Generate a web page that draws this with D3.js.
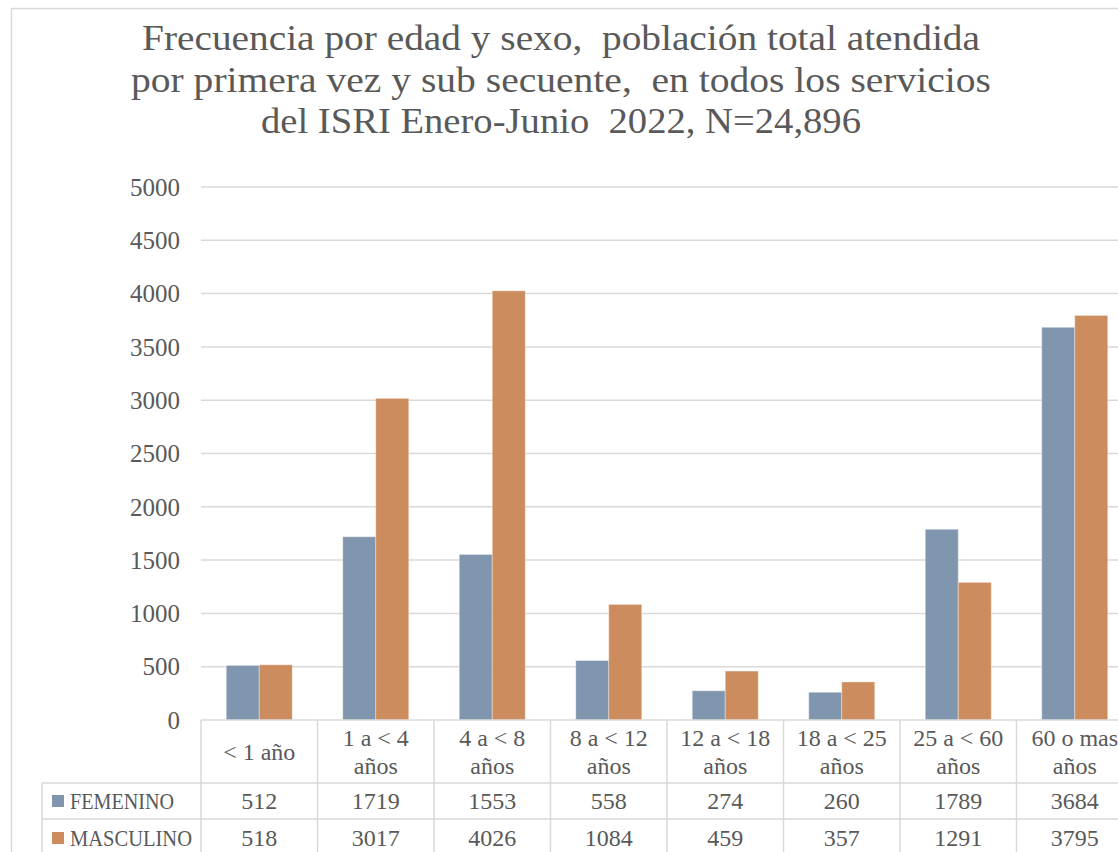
<!DOCTYPE html>
<html><head><meta charset="utf-8">
<script src="https://cdn.jsdelivr.net/npm/d3@7"></script>
<style>
html,body{margin:0;padding:0;background:#fff;overflow:hidden}
svg{display:block}
text{font-family:"Liberation Serif","DejaVu Serif",serif;fill:#595959;white-space:pre}
</style></head>
<body>
<svg id="c" width="1118" height="852"></svg>
<script>
const titleLines = ["Frecuencia por edad y sexo,  población total atendida",
  "por primera vez y sub secuente,  en todos los servicios",
  "del ISRI Enero-Junio  2022, N=24,896"];
const categories = [["< 1 año"],["1 a < 4","años"],["4 a < 8","años"],["8 a < 12","años"],
  ["12 a < 18","años"],["18 a < 25","años"],["25 a < 60","años"],["60 o mas","años"]];
const seriesNames = ["FEMENINO","MASCULINO"];
const femenino = [512,1719,1553,558,274,260,1789,3684];
const masculino = [518,3017,4026,1084,459,357,1291,3795];
const yTicks = [0,500,1000,1500,2000,2500,3000,3500,4000,4500,5000];
const colors = ["#7f96ae","#cd8c5e"];

const svg = d3.select("#c");
const values = [femenino, masculino];
const catKeys = categories.map(c=>c.join(" "));

// chart border
svg.append("rect").attr("x",11.5).attr("y",8.5).attr("width",1140).attr("height",900)
  .attr("fill","none").attr("stroke","#d9d9d9").attr("stroke-width",1.5);

// title
const tW = [838,860,600];
titleLines.forEach((t,i)=>{
  svg.append("text").attr("x",561).attr("y",50+i*41.5).attr("text-anchor","middle")
    .attr("font-size",35).attr("textLength",tW[i]).attr("lengthAdjust","spacingAndGlyphs").text(t);
});

const x0 = d3.scaleBand().domain(catKeys).range([201,201+8*116.5]).padding(0);
const bw = 33;
const x1 = d3.scaleBand().domain(seriesNames).range([(x0.bandwidth()-2*bw)/2,(x0.bandwidth()+2*bw)/2]).padding(0);
const y = d3.scaleLinear().domain([0,5000]).range([720,187]);

// gridlines
svg.append("g").selectAll("line").data(yTicks.slice(1)).join("line")
  .attr("x1",201).attr("x2",1200).attr("y1",d=>y(d)).attr("y2",d=>y(d))
  .attr("stroke","#d9d9d9").attr("stroke-width",1.5);

// y axis labels
const yAxis = d3.axisLeft(y).tickValues(yTicks).tickFormat(d3.format("d")).tickSize(0).tickPadding(0);
const ya = svg.append("g").attr("transform","translate(180,0)").call(yAxis);
ya.select(".domain").remove();
ya.selectAll("text").attr("font-size",25).attr("fill","#595959")
  .attr("font-family","Liberation Serif, DejaVu Serif, serif").attr("dy","0.33em");

// bars
const gcat = svg.append("g").selectAll("g").data(catKeys).join("g")
  .attr("transform",d=>`translate(${x0(d)},0)`);
gcat.selectAll("rect").data((d,i)=>seriesNames.map((s,j)=>({s,v:values[j][i],j}))).join("rect")
  .attr("x",d=>x1(d.s)).attr("width",x1.bandwidth())
  .attr("y",d=>y(d.v)).attr("height",d=>y(0)-y(d.v))
  .attr("fill",d=>colors[d.j]).attr("stroke","#ffffff").attr("stroke-opacity",0.35).attr("stroke-width",1);

// data table
const tb = svg.append("g");
const gc = "#d9d9d9";
const r0 = 720, r1 = 783, r2 = 819, r3 = 870;
tb.append("line").attr("x1",201).attr("x2",1200).attr("y1",r0).attr("y2",r0).attr("stroke",gc).attr("stroke-width",1.5);
[r1,r2].forEach(r=>tb.append("line").attr("x1",42).attr("x2",1200).attr("y1",r).attr("y2",r).attr("stroke",gc).attr("stroke-width",1.5));
tb.append("line").attr("x1",42).attr("x2",42).attr("y1",r1).attr("y2",r3).attr("stroke",gc).attr("stroke-width",1.5);
catKeys.forEach(k=>{
  tb.append("line").attr("x1",x0(k)).attr("x2",x0(k)).attr("y1",r0).attr("y2",r3).attr("stroke",gc).attr("stroke-width",1.5);
});
tb.append("line").attr("x1",x0.range()[1]).attr("x2",x0.range()[1]).attr("y1",r0).attr("y2",r3).attr("stroke",gc).attr("stroke-width",1.5);

// category labels
categories.forEach((c,i)=>{
  const cx = x0(catKeys[i]) + x0.bandwidth()/2;
  const ys = c.length===1 ? [752] : [738,766];
  c.forEach((t,k)=>{
    tb.append("text").attr("x",cx).attr("y",ys[k]).attr("dy","0.33em").attr("text-anchor","middle")
      .attr("font-size",24).text(t);
  });
});
// rows
const rowY = [801,838];
const legW = [104,122];
seriesNames.forEach((s,j)=>{
  tb.append("rect").attr("x",52).attr("y",rowY[j]-6).attr("width",12).attr("height",12).attr("fill",colors[j]);
  tb.append("text").attr("x",70).attr("y",rowY[j]).attr("dy","0.33em").attr("font-size",23)
    .attr("textLength",legW[j]).attr("lengthAdjust","spacingAndGlyphs").text(s);
  values[j].forEach((v,i)=>{
    tb.append("text").attr("x",x0(catKeys[i])+x0.bandwidth()/2).attr("y",rowY[j]).attr("dy","0.33em")
      .attr("text-anchor","middle").attr("font-size",24).text(v);
  });
});
</script>
</body></html>
